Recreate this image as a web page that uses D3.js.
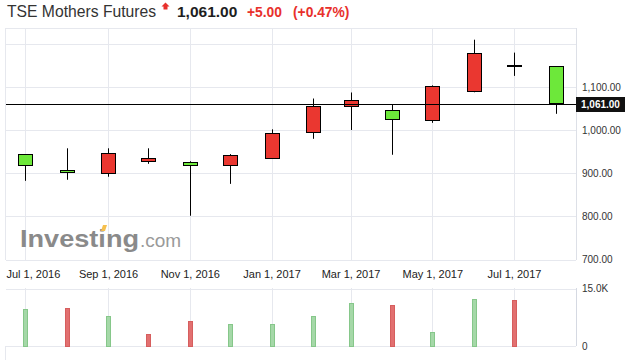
<!DOCTYPE html>
<html>
<head>
<meta charset="utf-8">
<script src="https://cdn.jsdelivr.net/npm/d3@7"></script>
<style>
  html, body { margin: 0; padding: 0; background: #fff; }
  svg { display: block; font-family: "Liberation Sans", Arial, sans-serif; }
</style>
</head>
<body>
<svg id="chart" width="625" height="360"></svg>
<script>
// ---------------- DATA ----------------
const months = ["2016-07-01","2016-08-01","2016-09-01","2016-10-01","2016-11-01","2016-12-01",
                "2017-01-01","2017-02-01","2017-03-01","2017-04-01","2017-05-01","2017-06-01",
                "2017-07-01","2017-08-01"];
const openV  = [944, 906.5, 900, 927.5, 926, 918, 934, 997, 1056, 1048, 1025, 1092, 1151.5, 1148];
const highV  = [944, 958, 958, 958, 928, 944.5, 1002, 1073.5, 1087.5, 1060, 1104, 1210, 1180, 1148];
const lowV   = [882.5, 885, 892, 922, 801.5, 875.5, 934, 980, 1000.5, 943, 1017, 1088, 1126, 1038];
const closeV = [918, 902, 946, 934.5, 919.5, 941.5, 992.5, 1057, 1069, 1027, 1103.5, 1180, 1151.5, 1061];

const volMonths = months.slice(0, 13);
const volume = [9700, 10000, 7900, 3200, 6600, 5800, 5800, 7900, 11300, 10750, 3700, 12300, 12050];
const volDir = ["up","down","up","down","down","up","up","up","up","down","up","up","down"];

const priceTicks = [700, 800, 900, 1000, 1100];
const priceGrid = [700, 800, 900, 1000, 1100, 1200];
const volTicks = [0, 15000];
const dateTicks = ["2016-07-01","2016-09-01","2016-11-01","2017-01-01","2017-03-01","2017-05-01","2017-07-01"];

const titleText = "TSE Mothers Futures";
const lastPrice = "1,061.00";
const changeText = "+5.00";
const changePct = "(+0.47%)";

// ---------------- SETUP ----------------
const parse = d3.timeParse("%Y-%m-%d");
const svg = d3.select("#chart");
const W = 625;
const left = 6, right = 576;
const pTop = 28, pBottom = 260;
const vTop = 288, vBottom = 346;

const x = d3.scaleTime()
  .domain([parse("2016-07-01"), parse("2017-07-01")])
  .range([25, 514]);
const y = d3.scaleLinear().domain([700, 1200]).range([259.5, 44]);
const yv = d3.scaleLinear().domain([0, 15000]).range([346, 288.5]);

const px = v => Math.round(v) + 0.5;
const gridColor = "#e6e8ee";

// ---------------- HEADER ----------------
svg.append("text").attr("x", 7).attr("y", 17)
  .attr("font-size", 15.7).attr("fill", "#333").text(titleText);
svg.append("path")
  .attr("d", "M165.5,2.5 L169.5,6.5 L167.5,6.5 L167.5,9.5 L163.5,9.5 L163.5,6.5 L161.5,6.5 Z")
  .attr("fill", "#e8302b");
svg.append("text").attr("x", 177).attr("y", 17)
  .attr("font-size", 15.5).attr("font-weight", "bold").attr("fill", "#1e1e1e").text(lastPrice);
svg.append("text").attr("x", 247).attr("y", 17)
  .attr("font-size", 13.8).attr("font-weight", "bold").attr("fill", "#e8302b").text(changeText);
svg.append("text").attr("x", 293).attr("y", 17)
  .attr("font-size", 13.8).attr("font-weight", "bold").attr("fill", "#e8302b").text(changePct);

// ---------------- GRID / FRAME ----------------
const g = svg.append("g");
g.selectAll(".hg").data(priceGrid).enter().append("line")
  .attr("x1", left).attr("x2", right)
  .attr("y1", d => px(y(d))).attr("y2", d => px(y(d)))
  .attr("stroke", gridColor);
g.append("line").attr("x1", left).attr("x2", right).attr("y1", pTop + 0.5).attr("y2", pTop + 0.5).attr("stroke", gridColor);
g.selectAll(".vg").data(dateTicks).enter().append("line")
  .attr("x1", d => px(x(parse(d)))).attr("x2", d => px(x(parse(d))))
  .attr("y1", pTop).attr("y2", pBottom).attr("stroke", gridColor);
g.selectAll(".vg2").data(dateTicks).enter().append("line")
  .attr("x1", d => px(x(parse(d)))).attr("x2", d => px(x(parse(d))))
  .attr("y1", vTop).attr("y2", vBottom).attr("stroke", gridColor);
g.selectAll(".vh").data(volTicks).enter().append("line")
  .attr("x1", left).attr("x2", right)
  .attr("y1", d => px(yv(d))).attr("y2", d => px(yv(d)))
  .attr("stroke", gridColor);
g.append("line").attr("x1", left - 0.5).attr("x2", left - 0.5).attr("y1", pTop).attr("y2", pBottom).attr("stroke", gridColor);
g.append("line").attr("x1", left - 0.5).attr("x2", left - 0.5).attr("y1", vBottom).attr("y2", 360).attr("stroke", gridColor);
g.append("line").attr("x1", right + 0.5).attr("x2", right + 0.5).attr("y1", pTop).attr("y2", pBottom).attr("stroke", "#dde0e7");
g.append("line").attr("x1", right + 0.5).attr("x2", right + 0.5).attr("y1", vTop).attr("y2", vBottom).attr("stroke", "#d5d9e2");

// ---------------- WATERMARK ----------------
svg.append("text").attr("x", 20).attr("y", 247)
  .attr("font-size", 23).attr("font-weight", "bold").attr("fill", "#8a8a8a")
  .attr("textLength", 119).attr("lengthAdjust", "spacingAndGlyphs")
  .text("Investing");
svg.append("path").attr("d", "M101,231 L103,225 L107,225 L105,231 Z").attr("fill", "#f6c04d");
svg.append("text").attr("x", 140).attr("y", 247)
  .attr("font-size", 19).attr("fill", "#9a9a9a").text(".com");

// ---------------- CANDLES ----------------
const candles = months.map((m, i) => ({
  date: parse(m), open: openV[i], high: highV[i], low: lowV[i], close: closeV[i]
}));
const cg = svg.append("g");
cg.selectAll(".wick").data(candles).enter().append("line")
  .attr("x1", d => px(x(d.date))).attr("x2", d => px(x(d.date)))
  .attr("y1", d => y(d.high)).attr("y2", d => y(d.low))
  .attr("stroke", "#000").attr("stroke-width", 1);
cg.selectAll(".body").data(candles).enter().append("rect")
  .attr("x", d => Math.round(x(d.date)) - 6.5)
  .attr("width", 14)
  .attr("y", d => Math.round(y(Math.max(d.open, d.close))) + 0.5)
  .attr("height", d => Math.max(1, Math.round(Math.abs(y(d.open) - y(d.close)))))
  .attr("fill", d => d.close > d.open ? "#ea3730" : (d.close < d.open ? "#6de83a" : "#000"))
  .attr("stroke", "#000").attr("stroke-width", 1);

// ---------------- CURRENT PRICE LINE ----------------
const lastY = px(y(closeV[closeV.length - 1]));
svg.append("line").attr("x1", left).attr("x2", right)
  .attr("y1", lastY).attr("y2", lastY).attr("stroke", "#000").attr("stroke-width", 1);
svg.append("rect").attr("x", right).attr("y", lastY - 7.5).attr("width", W - right).attr("height", 15)
  .attr("fill", "#111");
svg.append("text").attr("x", 581).attr("y", lastY).attr("dy", "0.35em")
  .attr("font-size", 10).attr("font-weight", "bold").attr("fill", "#fff").text(lastPrice);

// ---------------- AXES ----------------
const yAxis = svg.append("g").attr("transform", `translate(${right},0)`)
  .call(d3.axisRight(y).tickValues(priceTicks).tickFormat(d3.format(",.2f")).tickSize(0).tickPadding(6));
yAxis.select(".domain").remove();
yAxis.selectAll("text").attr("font-size", 10).attr("fill", "#333").attr("font-family", "Liberation Sans, Arial, sans-serif");

const vAxis = svg.append("g").attr("transform", `translate(${right},0)`)
  .call(d3.axisRight(yv).tickValues(volTicks)
    .tickFormat(d => d === 0 ? "0" : (d / 1000).toFixed(1) + "K").tickSize(0).tickPadding(6));
vAxis.select(".domain").remove();
vAxis.selectAll("text").attr("font-size", 10).attr("fill", "#333").attr("font-family", "Liberation Sans, Arial, sans-serif");

const xAxis = svg.append("g").attr("transform", "translate(0,270)")
  .call(d3.axisBottom(x).tickValues(dateTicks.map(parse))
    .tickFormat(d3.timeFormat("%b %-d, %Y")).tickSize(0).tickPadding(0));
xAxis.select(".domain").remove();
xAxis.selectAll("text").attr("font-size", 11).attr("fill", "#222")
  .attr("font-family", "Liberation Sans, Arial, sans-serif").attr("dy", "0.71em");
xAxis.selectAll(".tick").filter((d, i) => i === 0).select("text")
  .attr("text-anchor", "start").attr("x", left - x(parse(dateTicks[0])));

// ---------------- VOLUME ----------------
const vols = volMonths.map((m, i) => ({ date: parse(m), v: volume[i], dir: volDir[i] }));
svg.append("g").selectAll("rect").data(vols).enter().append("rect")
  .attr("x", d => Math.round(x(d.date)) - 2 + 0.5)
  .attr("width", 4)
  .attr("y", d => Math.round(yv(d.v)) + 0.5)
  .attr("height", d => Math.round(yv(0)) - Math.round(yv(d.v)))
  .attr("fill", d => d.dir === "up" ? "#a5d8a8" : "#e27070")
  .attr("stroke", d => d.dir === "up" ? "#86c78a" : "#d65e5e")
  .attr("stroke-width", 1);
</script>
</body>
</html>
